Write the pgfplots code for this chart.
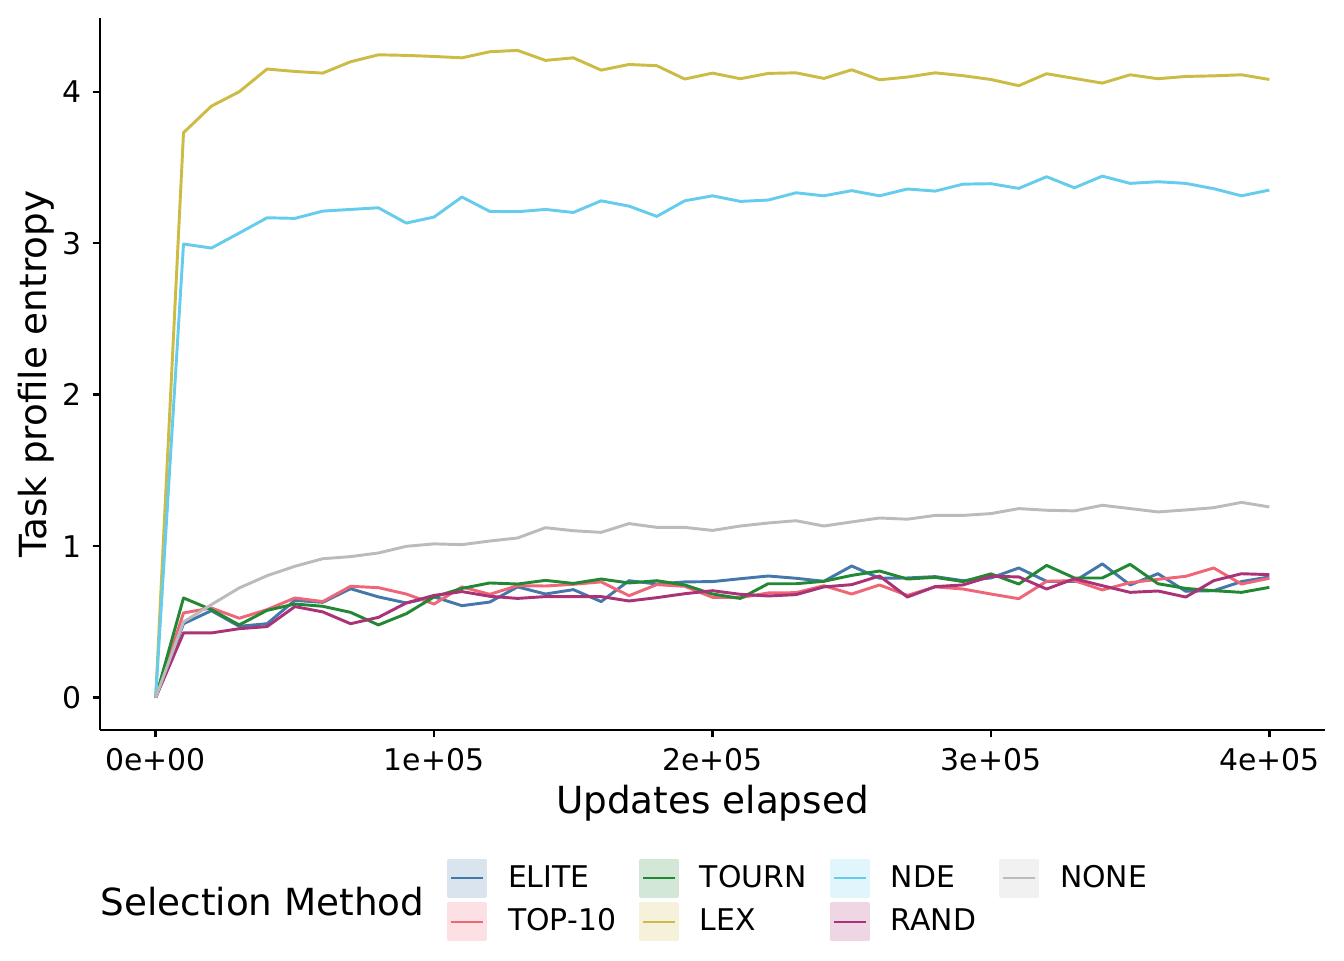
\documentclass[border=0pt]{standalone}
\usepackage{pgfplots}
\pgfplotsset{compat=1.18}
\usepackage{pgfplotstable}
\usepackage{fontspec}
\setmainfont{DejaVu Sans}
\definecolor{cElite}{HTML}{4477AA}
\definecolor{cTop}{HTML}{EE6677}
\definecolor{cTourn}{HTML}{228833}
\definecolor{cLex}{HTML}{CCBB44}
\definecolor{cNde}{HTML}{66CCEE}
\definecolor{cRand}{HTML}{AA3377}
\definecolor{cNone}{HTML}{BBBBBB}
\pgfplotstableread{
x elite top tourn lex nde rand none
0 0 0 0 0 0 0 0
10000 0.488 0.559 0.658 3.73 2.995 0.427 0.50
20000 0.574 0.592 0.581 3.905 2.968 0.427 0.614
30000 0.471 0.524 0.480 4.00 3.067 0.455 0.724
40000 0.488 0.581 0.576 4.15 3.168 0.469 0.805
50000 0.642 0.658 0.618 4.134 3.164 0.601 0.867
60000 0.629 0.634 0.603 4.123 3.212 0.566 0.917
70000 0.719 0.735 0.563 4.198 3.223 0.488 0.931
80000 0.665 0.726 0.480 4.244 3.234 0.530 0.955
90000 0.625 0.684 0.554 4.240 3.133 0.625 0.999
100000 0.665 0.618 0.665 4.233 3.173 0.675 1.015
110000 0.607 0.731 0.721 4.224 3.305 0.700 1.010
120000 0.631 0.682 0.757 4.264 3.210 0.669 1.034
130000 0.731 0.739 0.750 4.273 3.208 0.655 1.054
140000 0.684 0.737 0.774 4.207 3.223 0.667 1.122
150000 0.713 0.748 0.754 4.224 3.203 0.667 1.102
160000 0.634 0.764 0.783 4.143 3.280 0.667 1.091
170000 0.772 0.673 0.757 4.180 3.245 0.638 1.149
180000 0.750 0.746 0.772 4.172 3.177 0.660 1.124
190000 0.764 0.735 0.744 4.084 3.280 0.686 1.124
200000 0.766 0.662 0.684 4.123 3.313 0.706 1.104
210000 0.785 0.660 0.655 4.086 3.276 0.682 1.133
220000 0.803 0.691 0.752 4.121 3.285 0.671 1.153
230000 0.788 0.693 0.752 4.125 3.333 0.680 1.168
240000 0.768 0.739 0.768 4.088 3.313 0.731 1.133
250000 0.869 0.684 0.807 4.145 3.347 0.746 1.160
260000 0.788 0.744 0.836 4.079 3.313 0.803 1.186
270000 0.790 0.675 0.783 4.097 3.358 0.664 1.178
280000 0.799 0.731 0.794 4.125 3.344 0.733 1.203
290000 0.772 0.717 0.766 4.106 3.390 0.744 1.203
300000 0.790 0.684 0.817 4.081 3.393 0.801 1.215
310000 0.856 0.653 0.750 4.040 3.362 0.797 1.248
320000 0.768 0.768 0.873 4.119 3.439 0.717 1.237
330000 0.768 0.772 0.790 4.088 3.366 0.785 1.233
340000 0.883 0.711 0.790 4.057 3.443 0.739 1.270
350000 0.744 0.759 0.880 4.112 3.395 0.695 1.248
360000 0.818 0.781 0.752 4.086 3.406 0.704 1.226
370000 0.702 0.801 0.721 4.101 3.395 0.664 1.239
380000 0.706 0.856 0.706 4.105 3.360 0.772 1.254
390000 0.766 0.750 0.695 4.112 3.313 0.818 1.289
400000 0.797 0.788 0.728 4.081 3.351 0.812 1.259
}\datatable
\newcommand{\keyimg}[1]{\addlegendimage{legend image code/.code={\fill[#1!20] (0pt,-6.9pt) rectangle (13.9pt,6.9pt); \draw[#1, line width=0.8pt] (1pt,0pt) -- (12.9pt,0pt);}}}
\begin{document}
\begin{tikzpicture}
\begin{axis}[
  name=ax,
  scale only axis,
  width=459.375pt, height=267pt,
  xmin=-20000, xmax=420000,
  ymin=-0.2137, ymax=4.487,
  axis lines=left,
  axis line style={-, line width=0.9pt, black},
  tick align=outside,
  major tick length=2.75pt,
  tick style={black, line width=0.9pt},
  xtick={0,100000,200000,300000,400000},
  xticklabels={0e+00,1e+05,2e+05,3e+05,4e+05},
  ytick={0,1,2,3,4},
  yticklabels={0,1,2,3,4},
  scaled x ticks=false,
  /pgf/number format/assume math mode=true,
  ticklabel style={font=\fontsize{11.2}{13}\selectfont, inner sep=0pt, black},
  xticklabel style={yshift=-4pt},
  yticklabel style={xshift=-4pt},
  xlabel={Updates elapsed},
  ylabel={Task profile entropy},
  label style={font=\fontsize{14}{16}\selectfont, inner sep=0pt},
  xlabel style={at={(axis description cs:0.5,-0.1166)}, anchor=base},
  ylabel style={at={(axis description cs:-0.0433,0.5)}, anchor=base},
  legend columns=4,
  legend cell align=left,
  legend style={draw=none, fill=none, inner sep=0pt, outer sep=0pt,
    row sep=1.3pt,
    /tikz/every odd column/.append style={column sep=7.9pt},
    /tikz/every even column/.append style={column sep=8.6pt},
    font=\fontsize{11.2}{13}\selectfont,
    nodes={inner sep=0pt},
    at={(rel axis cs:0.2833,-0.2388)}, anchor=west},
  every axis plot/.append style={line width=1.1pt, line join=round},
]
\addplot[cElite, forget plot] table[x=x, y=elite] {\datatable};
\addplot[cTop, forget plot] table[x=x, y=top] {\datatable};
\addplot[cTourn, forget plot] table[x=x, y=tourn] {\datatable};
\addplot[cLex, forget plot] table[x=x, y=lex] {\datatable};
\addplot[cNde, forget plot] table[x=x, y=nde] {\datatable};
\addplot[cRand, forget plot] table[x=x, y=rand] {\datatable};
\addplot[cNone, forget plot] table[x=x, y=none] {\datatable};
\keyimg{cElite}\addlegendentry{ELITE}
\keyimg{cTourn}\addlegendentry{TOURN}
\keyimg{cNde}\addlegendentry{NDE}
\keyimg{cNone}\addlegendentry{NONE}
\keyimg{cTop}\addlegendentry{TOP-10}
\keyimg{cLex}\addlegendentry{LEX}
\keyimg{cRand}\addlegendentry{RAND}
\end{axis}
\node[anchor=west, inner sep=0pt, font=\fontsize{14}{16}\selectfont] at ([yshift=-64.5pt]ax.south west) {Selection Method};
\pgfresetboundingbox
\path[use as bounding box] ([xshift=-37.5pt,yshift=-86.25pt]ax.south west) rectangle ([xshift=7.125pt,yshift=6.75pt]ax.north east);
\end{tikzpicture}
\end{document}
